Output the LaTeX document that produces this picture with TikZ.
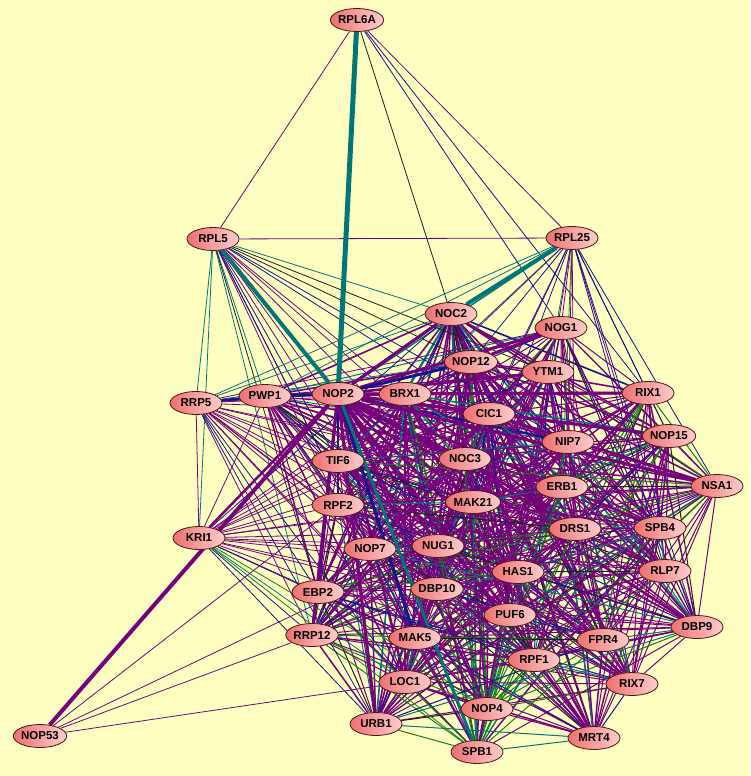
\documentclass[tikz,border=0pt]{standalone}
\usepackage{fontspec}
\setmainfont{Liberation Sans}
\usetikzlibrary{shapes.geometric}
\pgfdeclarelayer{background}
\pgfsetlayers{background,main}
\definecolor{bg}{RGB}{255,255,194}
\definecolor{epurple}{RGB}{120,0,125}
\definecolor{eblue}{RGB}{20,20,140}
\definecolor{eteal}{RGB}{0,118,120}
\definecolor{egreen}{RGB}{20,130,20}
\definecolor{eblack}{RGB}{30,30,30}
\definecolor{nleft}{RGB}{238,112,112}
\definecolor{nright}{RGB}{255,205,205}
\definecolor{nborder}{RGB}{80,20,20}
\tikzset{
  gene/.style={ellipse, draw=nborder, line width=0.8pt, left color=nleft, right color=nright,
    minimum width=52pt, minimum height=23pt, inner sep=0pt,
    font=\bfseries\fontsize{11.5}{13}\selectfont},
  edge/.style={line width=0.8pt},
  ep/.style={edge, draw=epurple},
  eb/.style={edge, draw=eblue},
  et/.style={edge, draw=eteal},
  eg/.style={edge, draw=egreen},
  ek/.style={edge, draw=eblack},
}
\def\corelist{NOC2,NOG1,NOP12,YTM1,PWP1,NOP2,BRX1,RIX1,CIC1,NOP15,NIP7,TIF6,NOC3,NSA1,ERB1,MAK21,RPF2,DRS1,SPB4,NUG1,NOP7,HAS1,RLP7,EBP2,DBP10,PUF6,DBP9,RRP12,MAK5,FPR4,RPF1,RIX7,LOC1,NOP4,URB1,MRT4,SPB1}
\begin{document}
\begin{tikzpicture}[x=1pt,y=-1pt]
\useasboundingbox (0,0) rectangle (750,776);
% nodes
\node[gene] (RPL6A) at (357,20) {RPL6A};
\node[gene] (RPL5) at (213,239) {RPL5};
\node[gene] (RPL25) at (572,238) {RPL25};
\node[gene] (NOC2) at (451,314) {NOC2};
\node[gene] (NOG1) at (561,328) {NOG1};
\node[gene] (NOP12) at (471,362) {NOP12};
\node[gene] (YTM1) at (548,372) {YTM1};
\node[gene] (RRP5) at (196,403) {RRP5};
\node[gene] (PWP1) at (265,396) {PWP1};
\node[gene] (NOP2) at (338,394) {NOP2};
\node[gene] (BRX1) at (405,394) {BRX1};
\node[gene] (RIX1) at (648,393) {RIX1};
\node[gene] (CIC1) at (489,414) {CIC1};
\node[gene] (NOP15) at (669,436) {NOP15};
\node[gene] (NIP7) at (568,442) {NIP7};
\node[gene] (TIF6) at (338,461) {TIF6};
\node[gene] (NOC3) at (465,459) {NOC3};
\node[gene] (NSA1) at (717,486) {NSA1};
\node[gene] (ERB1) at (562,487) {ERB1};
\node[gene] (MAK21) at (473,502) {MAK21};
\node[gene] (RPF2) at (338,505) {RPF2};
\node[gene] (DRS1) at (575,529) {DRS1};
\node[gene] (SPB4) at (660,528) {SPB4};
\node[gene] (KRI1) at (199,538) {KRI1};
\node[gene] (NUG1) at (438,546) {NUG1};
\node[gene] (NOP7) at (370,549) {NOP7};
\node[gene] (HAS1) at (518,572) {HAS1};
\node[gene] (RLP7) at (665,571) {RLP7};
\node[gene] (EBP2) at (318,592) {EBP2};
\node[gene] (DBP10) at (437,589) {DBP10};
\node[gene] (PUF6) at (510,615) {PUF6};
\node[gene] (DBP9) at (697,627) {DBP9};
\node[gene] (RRP12) at (312,635) {RRP12};
\node[gene] (MAK5) at (415,638) {MAK5};
\node[gene] (FPR4) at (603,640) {FPR4};
\node[gene] (RPF1) at (534,660) {RPF1};
\node[gene] (RIX7) at (632,684) {RIX7};
\node[gene] (LOC1) at (405,682) {LOC1};
\node[gene] (NOP4) at (487,709) {NOP4};
\node[gene] (URB1) at (376,724) {URB1};
\node[gene] (MRT4) at (594,738) {MRT4};
\node[gene] (NOP53) at (40,736) {NOP53};
\node[gene] (SPB1) at (477,752) {SPB1};
\begin{pgfonlayer}{background}
\fill[bg] (0,0) rectangle (750,776);
% dense core
\foreach \a [count=\i] in \corelist {
  \foreach \b [count=\j] in \corelist {
    \ifnum\j>\i
      \pgfmathtruncatemacro\h{mod(\i*31+\j*17+\i*\j,20)}
      \pgfmathtruncatemacro\s{mod(\i*13+\j*7,9)}
      \pgfmathsetmacro\lw{(\i==6||\j==6)?2.6:((\i==3||\i==1||\i==9||\i==7)?1.6:(\h<4?1.5:1.0))}
      \pgfmathtruncatemacro\c{(\i==6||\j==6)?(\h<17?0:1):(((\j==37||\j==34)&&\h>=8&&\h<14)?3:(\h<15?0:(\h<17?1:(\h<18?2:(\h<19?3:4)))))}
      \ifnum\s>0
        \ifcase\c \def\ec{epurple}\or \def\ec{eblue}\or \def\ec{eteal}\or \def\ec{egreen}\else \def\ec{eblack}\fi
        \draw[line width=\lw pt, draw=\ec] (\a) -- (\b);
      \fi
    \fi
  }
}
% RPL6A
\draw[ep] (RPL6A) -- (RPL5);
\draw[ep] (RPL6A) -- (RPL25);
\draw[ek] (RPL6A) -- (NOC2);
\draw[eb] (RPL6A) -- (NOG1);
\draw[eb] (RPL6A) -- (RIX1);
% RPL5
\foreach \t in {RRP5,KRI1,PWP1,RRP12,NOC2} \draw[et] (RPL5) -- (\t);
\foreach \t in {RPL25,RPF2,NOP7,BRX1,NOC3,MAK21,NUG1,DBP10} \draw[ep] (RPL5) -- (\t);
\foreach \t in {TIF6,CIC1,NIP7,MAK5} \draw[eb] (RPL5) -- (\t);
\foreach \t in {EBP2,NOP12,YTM1} \draw[ek] (RPL5) -- (\t);
% RPL25
\foreach \t in {RRP5,PWP1,YTM1,TIF6} \draw[et] (RPL25) -- (\t);
\foreach \t in {NOG1,NIP7,SPB4,DRS1,NOC3,BRX1,HAS1} \draw[ep] (RPL25) -- (\t);
\foreach \t in {NOP12,CIC1,RIX1,NOP15,NSA1,RLP7,DBP9,MAK21} \draw[eb] (RPL25) -- (\t);
\draw[eg] (RPL25) -- (ERB1);
\draw[eteal, line width=1.5pt] (RPL25) -- (NOP2);
% RRP5
\foreach \t in {NOP2,BRX1,NOG1,TIF6,RPF2,NOP7,NUG1,RRP12,KRI1,MAK21,NOC3,CIC1,HAS1,DBP10,MAK5,ERB1,YTM1,RPF1,NOP4} \draw[ep] (RRP5) -- (\t);
\foreach \t in {NOP12,NOC2} \draw[et] (RRP5) -- (\t);
\foreach \t in {EBP2,LOC1,URB1} \draw[eb] (RRP5) -- (\t);
% KRI1
\foreach \t in {PWP1,BRX1,NOP12,TIF6,RPF2,NOP7,NUG1,MAK21,NOC3,EBP2,DBP10,HAS1,PUF6,RPF1,CIC1,ERB1,DRS1,YTM1} \draw[ep] (KRI1) -- (\t);
\foreach \t in {RRP12,MAK5,URB1,NOC2} \draw[eb] (KRI1) -- (\t);
\draw[et] (KRI1) -- (LOC1);
\foreach \t in {SPB1,NOP4} \draw[eg] (KRI1) -- (\t);
% NOP53
\foreach \t in {RPF2,NUG1,RRP12,LOC1} \draw[ep] (NOP53) -- (\t);
% heavy edges
\draw[epurple, line width=2.5pt] (KRI1) -- (NOP2);
\draw[eblue, line width=2.5pt] (RRP5) -- (PWP1);
\draw[epurple, line width=2.5pt] (CIC1) -- (NSA1);
\draw[epurple, line width=3pt] (NOG1) -- (NOP12);
\draw[epurple, line width=3pt] (NOC2) -- (NOP2);
\draw[epurple, line width=3pt] (NOG1) -- (NOP2);
\draw[epurple, line width=3pt] (NOP2) -- (RIX1);
\draw[epurple, line width=3pt] (NOP2) -- (NSA1);
\draw[epurple, line width=3pt] (NOP2) -- (NOP15);
\draw[epurple, line width=3pt] (NOP2) -- (URB1);
\draw[epurple, line width=3pt] (NOP2) -- (RRP12);
\draw[eblue, line width=3pt] (NOP2) -- (NOP12);
\draw[eblue, line width=3pt] (PWP1) -- (NOP2);
\draw[eblue, line width=3pt] (NOP2) -- (MAK5);
\draw[eteal, line width=3pt] (NOP2) -- (SPB1);
\draw[eteal, line width=4pt] (RPL25) -- (NOC2);
\draw[eteal, line width=4pt] (RPL5) -- (NOP2);
\draw[epurple, line width=4pt] (NOP53) -- (NOP2);
\draw[eteal, line width=5pt] (RPL6A) -- (NOP2);
\end{pgfonlayer}
\end{tikzpicture}
\end{document}
